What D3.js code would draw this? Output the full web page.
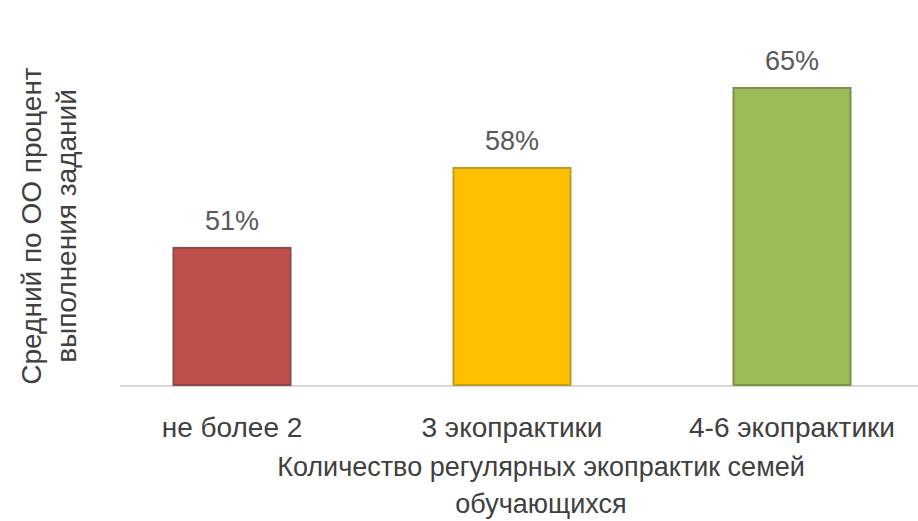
<!DOCTYPE html>
<html>
<head>
<meta charset="utf-8">
<script src="https://cdn.jsdelivr.net/npm/d3@7"></script>
<style>
  body { margin: 0; background: #fff; }
  text { font-family: "Liberation Sans", Arial, sans-serif; }
</style>
</head>
<body>
<div id="chart"></div>
<script>
// values
const categories = ["не более 2", "3 экопрактики", "4-6 экопрактики"];
const values = [51, 58, 65];
const colors = ["#c0504d", "#ffc000", "#9bbb59"];
const strokes = ["#8c4a47", "#c09a2a", "#7a9447"];
const yTitle = ["Средний по ОО процент", "выполнения заданий"];
const xTitle = ["Количество регулярных экопрактик семей", "обучающихся"];

const width = 918, height = 521;

const svg = d3.select("#chart")
    .append("svg")
    .attr("width", width)
    .attr("height", height);

let x = d3.scaleBand()
    .domain(categories)
    .range([92, 932])
    .paddingInner(0.582)
    .paddingOuter(0.291);

let y = d3.scaleLinear()
    .domain([39, 69.2])
    .range([385, 40]);

// axis line
svg.append("line")
    .attr("x1", 120)
    .attr("x2", width)
    .attr("y1", y(39) + 1)
    .attr("y2", y(39) + 1)
    .attr("stroke", "#d9d9d9")
    .attr("stroke-width", 2);

svg.selectAll(".bar")
    .data(values)
    .enter()
    .append("rect")
    .attr("class", "bar")
    .attr("x", (d, i) => x(categories[i]))
    .attr("y", d => y(d))
    .attr("width", x.bandwidth())
    .attr("height", d => y(39) - y(d))
    .attr("fill", (d, i) => colors[i])
    .attr("stroke", (d, i) => strokes[i])
    .attr("stroke-width", 2);

svg.selectAll(".label")
    .data(values)
    .enter()
    .append("text")
    .attr("class", "label")
    .attr("x", (d, i) => x(categories[i]) + x.bandwidth() / 2)
    .attr("y", d => y(d) - 18)
    .attr("text-anchor", "middle")
    .style("font-size", "27px")
    .style("fill", "#595959")
    .text(d => d + "%");

// category labels
svg.append("g")
    .attr("class", "axis")
    .attr("transform", "translate(0," + 386 + ")")
    .call(d3.axisBottom(x).tickSize(0).tickPadding(42))
    .call(g => g.select(".domain").remove())
    .selectAll("text")
    .attr("dy", "0.32em")
    .style("font-size", "28px")
    .style("font-family", "Liberation Sans, Arial, sans-serif")
    .style("fill", "#404040");

svg.append("text")
    .attr("text-anchor", "middle")
    .style("font-size", "27px")
    .style("fill", "#404040")
    .selectAll("tspan")
    .data(xTitle)
    .enter()
    .append("tspan")
    .attr("x", 541)
    .attr("y", (d, i) => 476 + i * 37)
    .text(d => d);

svg.append("text")
    .attr("transform", "translate(0,226) rotate(-90)")
    .attr("text-anchor", "middle")
    .style("font-size", "28px")
    .style("fill", "#404040")
    .selectAll("tspan")
    .data(yTitle)
    .enter()
    .append("tspan")
    .attr("x", 0)
    .attr("y", (d, i) => 41 + i * 35)
    .text(d => d);
</script>
</body>
</html>
